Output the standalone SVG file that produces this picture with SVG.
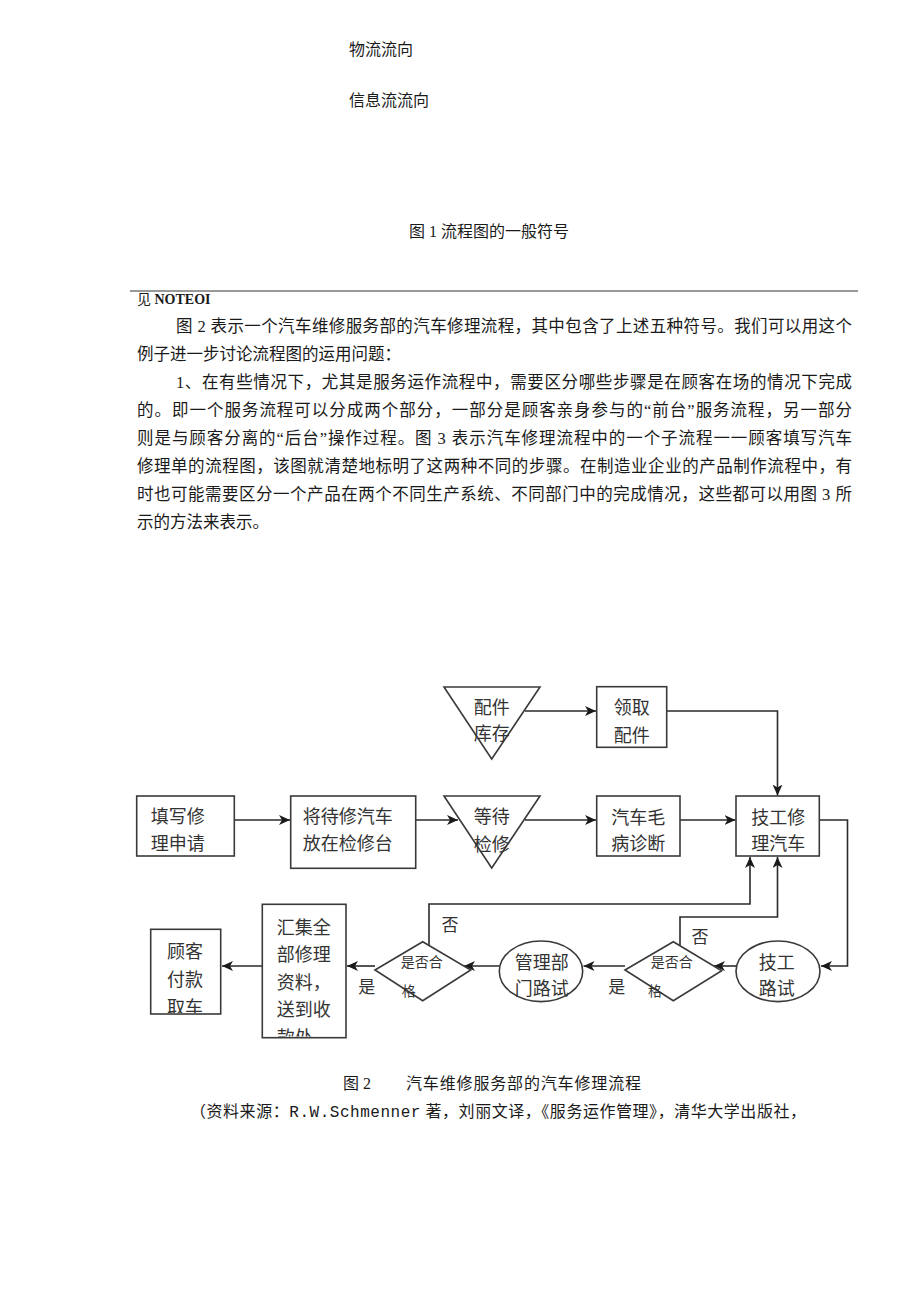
<svg xmlns="http://www.w3.org/2000/svg" width="920" height="1301" viewBox="0 0 920 1301">
<style>
.body{font-family:"Liberation Serif","Noto Sans CJK SC",serif;font-size:16.5px;fill:#1a1a1a}
.cap{font-family:"Liberation Serif","Noto Sans CJK SC",serif;font-size:16px;fill:#1a1a1a}
.shape{fill:#fff;stroke:#3a3a3a;stroke-width:1.6}
.lbl{font-family:"Noto Sans CJK SC",sans-serif;font-size:18px;fill:#333}
.dlbl{font-family:"Noto Sans CJK SC",sans-serif;font-size:14px;fill:#333}
.yn{font-family:"Noto Sans CJK SC",sans-serif;font-size:17px;fill:#333}
.c{fill:none;stroke:#2a2a2a;stroke-width:1.6}
.mid{text-anchor:middle}
</style>
<defs>
<marker id="ah" markerUnits="userSpaceOnUse" markerWidth="12" markerHeight="10" refX="11" refY="5" orient="auto">
<path d="M0,0 L11,5 L0,10 L3,5 Z" fill="#1a1a1a"/>
</marker>
<clipPath id="clipA"><rect x="151" y="930" width="69" height="83"/></clipPath>
<clipPath id="clipB"><rect x="263" y="905" width="82" height="131.5"/></clipPath>
</defs>
<rect width="920" height="1301" fill="#fff"/>

<g id="legend-text">
<text class="cap" x="349" y="55">物流流向</text>
<text class="cap" x="349" y="106">信息流流向</text>
<text class="cap" x="409" y="237">图 1 流程图的一般符号</text>
</g>

<line x1="130" y1="291" x2="858" y2="291" stroke="#777" stroke-width="1.6"/>

<g id="paragraph">
<text x="137" y="303.5" font-family="Liberation Serif,Noto Sans CJK SC,serif" font-size="14" fill="#1a1a1a">见 <tspan font-weight="bold">NOTEOI</tspan></text>
<text class="body" x="176" y="332" textLength="676">图 2 表示一个汽车维修服务部的汽车修理流程，其中包含了上述五种符号。我们可以用这个</text>
<text class="body" x="137" y="360">例子进一步讨论流程图的运用问题：</text>
<text class="body" x="176" y="388" textLength="676">1、在有些情况下，尤其是服务运作流程中，需要区分哪些步骤是在顾客在场的情况下完成</text>
<text class="body" x="137" y="416" textLength="715">的。即一个服务流程可以分成两个部分，一部分是顾客亲身参与的“前台”服务流程，另一部分</text>
<text class="body" x="137" y="444" textLength="715">则是与顾客分离的“后台”操作过程。图 3 表示汽车修理流程中的一个子流程一一顾客填写汽车</text>
<text class="body" x="137" y="472" textLength="715">修理单的流程图，该图就清楚地标明了这两种不同的步骤。在制造业企业的产品制作流程中，有</text>
<text class="body" x="137" y="500" textLength="715">时也可能需要区分一个产品在两个不同生产系统、不同部门中的完成情况，这些都可以用图 3 所</text>
<text class="body" x="137" y="528">示的方法来表示。</text>
</g>

<g id="connectors">
<path class="c" d="M234.5,820 H290" marker-end="url(#ah)"/>
<path class="c" d="M416,820 H458" marker-end="url(#ah)"/>
<path class="c" d="M525,820 H596" marker-end="url(#ah)"/>
<path class="c" d="M525,711 H596" marker-end="url(#ah)"/>
<path class="c" d="M667,711 H777.5 V795.5" marker-end="url(#ah)"/>
<path class="c" d="M680,820 H735.5" marker-end="url(#ah)"/>
<path class="c" d="M819.5,820 H847.5 V966 H821" marker-end="url(#ah)"/>
<path class="c" d="M736,966 H714" marker-end="url(#ah)"/>
<path class="c" d="M625,966 H583.5" marker-end="url(#ah)"/>
<path class="c" d="M680,945 V917 H777.5 V857" marker-end="url(#ah)"/>
<path class="c" d="M499.5,966 H464" marker-end="url(#ah)"/>
<path class="c" d="M375,966 H347" marker-end="url(#ah)"/>
<path class="c" d="M429,945 V904 H750 V857" marker-end="url(#ah)"/>
<path class="c" d="M262.5,966 H222" marker-end="url(#ah)"/>
</g>

<g id="n-fill-request">
<rect class="shape" x="136.7" y="796" width="97.6" height="60"/>
<text class="lbl" x="150.7" y="823">填写修</text>
<text class="lbl" x="150.7" y="850">理申请</text>
</g>

<g id="n-place-car">
<rect class="shape" x="290.7" y="796" width="125" height="72.3"/>
<text class="lbl" x="302.7" y="823">将待修汽车</text>
<text class="lbl" x="302.7" y="850">放在检修台</text>
</g>

<g id="n-wait-repair">
<polygon class="shape" points="444,796 540,796 491.7,868"/>
<text class="lbl mid" x="491.7" y="822.7">等待</text>
<text class="lbl mid" x="491.7" y="851">检修</text>
</g>

<g id="n-parts-stock">
<polygon class="shape" points="444,687 540,687 491.7,759"/>
<text class="lbl mid" x="491.7" y="713.7">配件</text>
<text class="lbl mid" x="491.7" y="740">库存</text>
</g>

<g id="n-get-parts">
<rect class="shape" x="596.7" y="686.7" width="70" height="60.6"/>
<text class="lbl mid" x="631.7" y="714.3">领取</text>
<text class="lbl mid" x="631.7" y="742">配件</text>
</g>

<g id="n-diagnose">
<rect class="shape" x="596.7" y="796" width="83.3" height="60"/>
<text class="lbl mid" x="638.3" y="823.7">汽车毛</text>
<text class="lbl mid" x="638.3" y="850.3">病诊断</text>
</g>

<g id="n-repair">
<rect class="shape" x="736" y="796" width="83.3" height="60"/>
<text class="lbl mid" x="778.3" y="823.7">技工修</text>
<text class="lbl mid" x="778.3" y="850.3">理汽车</text>
</g>

<g id="n-tech-test">
<ellipse class="shape" cx="778" cy="971.3" rx="42" ry="30.3"/>
<text class="lbl mid" x="776.7" y="968.7">技工</text>
<text class="lbl mid" x="776.7" y="995.3">路试</text>
</g>

<g id="n-check2">
<polygon class="shape" points="625,970 673.3,941.7 721.7,970.7 673.3,1000.7"/>
<text class="dlbl mid" x="671.7" y="967">是否合</text>
<text class="dlbl mid" x="655" y="995.5">格</text>
<text class="yn mid" x="616.7" y="993">是</text>
<text class="yn mid" x="700" y="943">否</text>
</g>

<g id="n-mgmt-test">
<ellipse class="shape" cx="541" cy="971.3" rx="41.7" ry="30.3"/>
<text class="lbl mid" x="541.7" y="968.7">管理部</text>
<text class="lbl mid" x="541.7" y="995.3">门路试</text>
</g>

<g id="n-check1">
<polygon class="shape" points="375,970 422.7,941.7 470.7,970 422.7,1000.7"/>
<text class="dlbl mid" x="421.7" y="967">是否合</text>
<text class="dlbl mid" x="408.7" y="995.5">格</text>
<text class="yn mid" x="366.7" y="993">是</text>
<text class="yn mid" x="450" y="931">否</text>
</g>

<g id="n-collect">
<rect class="shape" x="262.3" y="904.3" width="83.7" height="133.4"/>
<g clip-path="url(#clipB)">
<text class="lbl" x="276.7" y="933.7">汇集全</text>
<text class="lbl" x="276.7" y="961">部修理</text>
<text class="lbl" x="276.7" y="988.7">资料，</text>
<text class="lbl" x="276.7" y="1016.3">送到收</text>
<text class="lbl" x="276.7" y="1043.8">款处</text>
</g>
</g>

<g id="n-pay">
<rect class="shape" x="150.7" y="929.3" width="70" height="84.7"/>
<g clip-path="url(#clipA)">
<text class="lbl mid" x="185" y="957.7">顾客</text>
<text class="lbl mid" x="185" y="986">付款</text>
<text class="lbl mid" x="185" y="1014">取车</text>
</g>
</g>

<g id="caption">
<text class="cap" x="343" y="1089">图 2</text>
<text class="cap" x="406" y="1089" textLength="235">汽车维修服务部的汽车修理流程</text>
<text class="cap" x="190" y="1117" textLength="616">（资料来源：<tspan font-family="Liberation Mono,monospace">R.W.Schmenner</tspan> 著，刘丽文译，《服务运作管理》，清华大学出版社，</text>
</g>
</svg>
